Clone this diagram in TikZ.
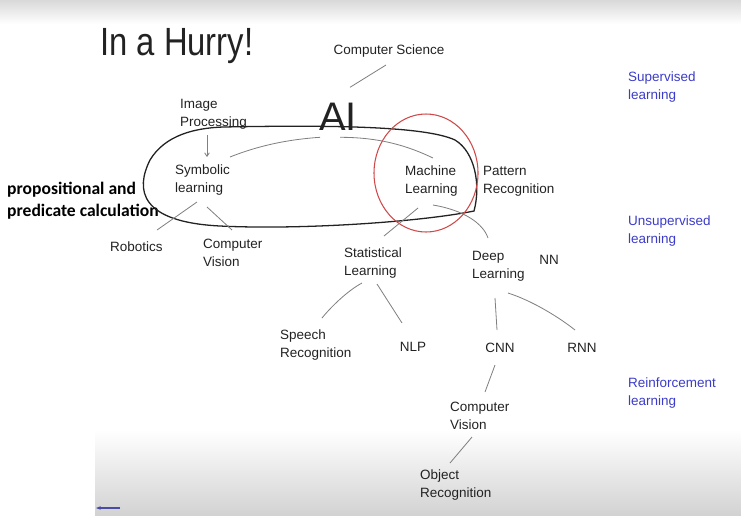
\documentclass[tikz,border=0pt]{standalone}
\usepackage{fontspec}
\setmainfont{Liberation Sans}
\newfontfamily\notefont{Carlito}
\usepackage{tikz}
\usetikzlibrary{arrows.meta, calc}
\usepackage{xcolor}
\definecolor{InkBlack}{HTML}{222222}
\definecolor{InkGray}{HTML}{808080}
\definecolor{MarkerRed}{HTML}{D04848}
\definecolor{MarkerBlue}{HTML}{3C3CC8}
\definecolor{ArrowBlue}{HTML}{4A4AA8}
\tikzset{
    % Text styles
    hand/.style={
        inner sep=0pt,
        align=left,
        text=InkBlack,
        font=\fontsize{11.5}{15.3}\selectfont
    },
    bluenote/.style={
        hand,
        anchor=west,
        text=MarkerBlue
    },
    % Line styles
    link/.style={
        draw=InkGray,
        line width=0.7pt
    },
    linkarrow/.style={
        link,
        -{Straight Barb[length=3pt, width=4pt]}
    },
    loopline/.style={
        draw=InkBlack,
        line width=1.1pt
    },
    focus/.style={
        draw=MarkerRed,
        line width=0.9pt
    }
}

\begin{document}
\begin{tikzpicture}[x=0.03cm, y=-0.03cm]
    \useasboundingbox (0,0) rectangle (741,520);
    % Screen shading
    \shade[top color=gray!30, bottom color=white] (0,0) rectangle (741,24);
    \shade[top color=white, bottom color=gray!35] (95,430) rectangle (741,515);

    % Title
    \node[hand, anchor=base west, font=\fontsize{28}{30}\selectfont] (title) at (100,55) {\scalebox{1}[1.2]{In a Hurry!}};

    % Top of the map
    \node[hand] (cs) at (389,51) {Computer Science};
    \node[hand, anchor=base, font=\fontsize{34}{36}\selectfont] (ai) at (338,130) {AI};
    \node[hand, anchor=west] (imgp) at (180,114) {Image\\Processing};
    \node[hand, anchor=west] (symb) at (175,180) {Symbolic\\learning};
    \node[hand, anchor=west] (ml) at (405,181) {Machine\\Learning};
    \node[hand, anchor=west] (patt) at (483,181) {Pattern\\Recognition};
    \node[anchor=west, inner sep=0pt, align=left, font=\notefont\bfseries\fontsize{15}{18.7}\selectfont] (prop) at (7,201) {propositional and\\predicate calculation};

    % AI loop and ML circle
    \draw[loopline] (223,127) .. controls (330,125) and (425,126) .. (455,140)
        .. controls (475,152) and (481,185) .. (474,211)
        .. controls (420,222) and (300,230) .. (220,226)
        .. controls (140,222) and (135,190) .. (150,160)
        .. controls (165,135) and (195,128) .. (223,127);
    \draw[focus] (426,173) ellipse [x radius=1.56cm, y radius=1.77cm];

    % Second row
    \node[hand, anchor=west] (robot) at (110,247) {Robotics};
    \node[hand, anchor=west] (cv1) at (203,253) {Computer\\Vision};
    \node[hand, anchor=west] (stat) at (344,263) {Statistical\\Learning};
    \node[hand, anchor=west] (deep) at (472,266) {Deep\\Learning};
    \node[hand] (nn) at (549,260) {NN};

    % Third row
    \node[hand, anchor=west] (speech) at (280,345) {Speech\\Recognition};
    \node[hand] (nlp) at (413,347) {NLP};
    \node[hand] (cnn) at (500,348) {CNN};
    \node[hand] (rnn) at (582,348) {RNN};
    \node[hand, anchor=west] (cv2) at (450,416) {Computer\\Vision};
    \node[hand, anchor=west] (obj) at (420,485) {Object\\Recognition};

    % Learning types
    \node[bluenote] (sup) at (628,87) {Supervised\\learning};
    \node[bluenote] (unsup) at (628,231) {Unsupervised\\learning};
    \node[bluenote] (reinf) at (628,393) {Reinforcement\\learning};

    % Links
    \draw[link] ($(cs)+(-3,14)$) -- ($(ai)+(12,-29)$);
    \draw[linkarrow] ($(imgp.west)+(27,21)$) -- ($(symb.west)+(32,-23)$);
    \draw[link] ($(symb.west)+(55,-23)$) .. controls +(30,-12) and +(-30,2) .. ($(ai)+(-18,21)$);
    \draw[link] ($(ai)+(2,21)$) .. controls +(40,0) and +(-25,-12) .. ($(ml.west)+(28,-23)$);
    \draw[link] ($(symb.west)+(22,22)$) -- ($(robot.west)+(47,-17)$);
    \draw[link] ($(symb.west)+(32,27)$) -- ($(cv1.west)+(29,-23)$);
    \draw[link] ($(ml.west)+(13,27)$) -- ($(stat.west)+(40,-27)$);
    \draw[link] ($(ml.west)+(28,24)$) .. controls +(30,5) and +(-5,-15) .. ($(deep.west)+(16,-28)$);
    \draw[link] ($(stat.west)+(18,20)$) .. controls +(-15,8) and +(8,-10) .. ($(speech.west)+(42,-27)$);
    \draw[link] ($(stat.west)+(33,21)$) -- ($(nlp)+(-11,-24)$);
    \draw[link] ($(deep.west)+(23,32)$) -- ($(cnn)+(-3,-18)$);
    \draw[link] ($(deep.west)+(36,27)$) .. controls +(25,8) and +(-15,-12) .. ($(rnn)+(-7,-18)$);
    \draw[link] ($(cnn)+(-5,17)$) -- ($(cv2.west)+(35,-24)$);
    \draw[link] ($(cv2.west)+(22,21)$) -- ($(obj.west)+(30,-22)$);

    % Back arrow
    \coordinate (backstart) at (120,508);
    \coordinate (backend) at (96,508);
    \draw[draw=ArrowBlue, line width=1.3pt, -{Stealth[length=4pt]}] (backstart) -- (backend);
\end{tikzpicture}
\end{document}
